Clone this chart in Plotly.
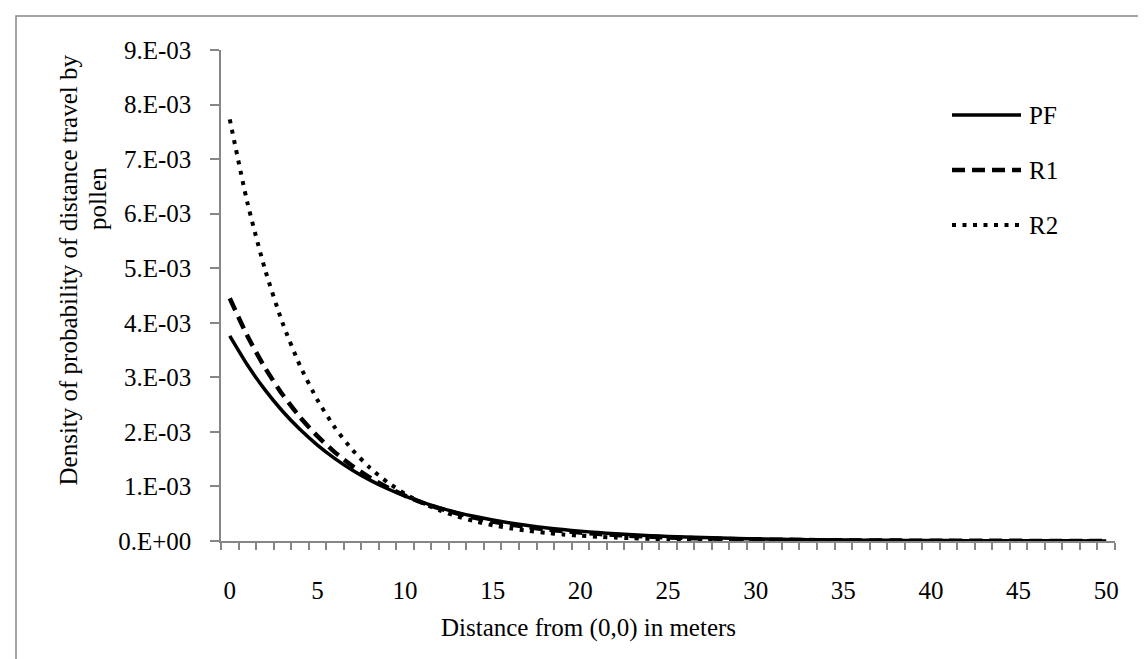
import numpy as np
import plotly.graph_objects as go

# distance categories (m)
distance = list(range(0, 51))

# density values in units of 1e-3
SCALE = 1e-3
pf = [3.760, 3.230, 2.774, 2.383, 2.047, 1.759, 1.511, 1.298, 1.115, 0.958,
      0.823, 0.707, 0.607, 0.521, 0.448, 0.385, 0.330, 0.284, 0.244, 0.209,
      0.180, 0.155, 0.133, 0.114, 0.098, 0.084, 0.072, 0.062, 0.053, 0.046,
      0.039, 0.034, 0.029, 0.025, 0.021, 0.018, 0.016, 0.013, 0.012, 0.010,
      0.0085, 0.0073, 0.0063, 0.0054, 0.0046, 0.0040, 0.0034, 0.0029, 0.0025, 0.0022,
      0.0019]
r1 = [4.450, 3.762, 3.180, 2.689, 2.273, 1.922, 1.625, 1.373, 1.161, 0.982,
      0.830, 0.701, 0.593, 0.501, 0.424, 0.358, 0.303, 0.256, 0.216, 0.183,
      0.155, 0.131, 0.111, 0.093, 0.079, 0.067, 0.056, 0.048, 0.040, 0.034,
      0.029, 0.024, 0.021, 0.017, 0.015, 0.012, 0.011, 0.009, 0.0076, 0.0064,
      0.0054, 0.0046, 0.0039, 0.0033, 0.0028, 0.0023, 0.0020, 0.0017, 0.0014, 0.0012,
      0.0010]
r2 = [7.730, 6.210, 4.988, 4.007, 3.219, 2.586, 2.077, 1.669, 1.340, 1.077,
      0.865, 0.695, 0.558, 0.448, 0.360, 0.289, 0.232, 0.187, 0.150, 0.120,
      0.097, 0.078, 0.062, 0.050, 0.040, 0.032, 0.026, 0.021, 0.017, 0.014,
      0.011, 0.0088, 0.0071, 0.0057, 0.0046, 0.0037, 0.0030, 0.0024, 0.0019, 0.0015,
      0.0012, 0.0010, 0.0008, 0.0006, 0.0005, 0.0004, 0.0003, 0.0003, 0.0002, 0.0002,
      0.0001]

series_names = ["PF", "R1", "R2"]

x_tick_vals = [0, 5, 10, 15, 20, 25, 30, 35, 40, 45, 50]
y_tick_vals = [0, 1e-3, 2e-3, 3e-3, 4e-3, 5e-3, 6e-3, 7e-3, 8e-3, 9e-3]
y_tick_text = ["0.E+00", "1.E-03", "2.E-03", "3.E-03", "4.E-03",
               "5.E-03", "6.E-03", "7.E-03", "8.E-03", "9.E-03"]

x_title = "Distance from (0,0) in meters"
y_title_line1 = "Density of probability of distance travel by"
y_title_line2 = "pollen"

FONT = "Liberation Serif, Times New Roman, serif"
FS = 25
AXIS_GREY = "#868686"

W, H = 1146, 659
L, R, T, B = 213, 39, 42, 126
PW = W - L - R
PH = H - T - B

def px_x(p):
    return (p - L) / PW

def px_y(p):
    return 1 - (p - T) / PH

styles = [
    dict(color="black", width=3.5, dash="solid"),
    dict(color="black", width=4.5, dash="13px,7px"),
    dict(color="black", width=4, dash="4px,6.5px"),
]

fig = go.Figure()
for name, vals, st in zip(series_names, [pf, r1, r2], styles):
    fig.add_trace(go.Scatter(
        x=distance, y=np.array(vals) * SCALE, mode="lines", name=name,
        line=dict(color=st["color"], width=st["width"], dash=st["dash"], shape="spline", smoothing=0.6),
        showlegend=False, hoverinfo="skip"))

# custom legend (line samples + labels)
leg_y_px = [107, 162, 217]
for name, st, yp in zip(series_names, styles, leg_y_px):
    fig.add_shape(type="line", xref="paper", yref="paper",
                  x0=px_x(944), x1=px_x(1013), y0=px_y(yp), y1=px_y(yp),
                  line=dict(color=st["color"], width=st["width"], dash=st["dash"]))
    fig.add_annotation(xref="paper", yref="paper", x=px_x(1019), y=px_y(yp),
                       text=name, showarrow=False, xanchor="left", yanchor="middle",
                       font=dict(family=FONT, size=FS, color="black"))

# axis titles
fig.add_annotation(xref="paper", yref="paper", x=px_x(580), y=px_y(620),
                   text=x_title, showarrow=False, xanchor="center", yanchor="middle",
                   font=dict(family=FONT, size=FS, color="black"))
fig.add_annotation(xref="paper", yref="paper", x=px_x(60), y=px_y(45),
                   text=y_title_line1, showarrow=False, xanchor="center", yanchor="top",
                   textangle=-90,
                   font=dict(family=FONT, size=FS, color="black"))
fig.add_annotation(xref="paper", yref="paper", x=px_x(89), y=px_y(190),
                   text=y_title_line2, showarrow=False, xanchor="center", yanchor="middle",
                   textangle=-90,
                   font=dict(family=FONT, size=FS, color="black"))

# chart border (bottom edge lies outside the picture)
fig.add_shape(type="rect", xref="paper", yref="paper",
              x0=px_x(8), x1=px_x(1137), y0=px_y(8), y1=px_y(675),
              line=dict(color=AXIS_GREY, width=1.5), layer="below")

fig.update_layout(
    width=W, height=H,
    margin=dict(l=L, r=R, t=T, b=B),
    paper_bgcolor="white", plot_bgcolor="white",
    font=dict(family=FONT, size=FS, color="black"),
    showlegend=False,
)
fig.update_xaxes(
    range=[-0.5, 50.5], tickmode="array", tickvals=x_tick_vals,
    ticks="", showgrid=False, zeroline=False,
    showline=True, linecolor=AXIS_GREY, linewidth=1.5,
    ticklabelstandoff=26,
    minor=dict(ticks="outside", tick0=-0.5, dtick=1, ticklen=7,
               tickcolor=AXIS_GREY, tickwidth=1.5, showgrid=False),
)
fig.update_yaxes(
    range=[0, 9e-3], tickmode="array", tickvals=y_tick_vals, ticktext=y_tick_text,
    ticks="outside", ticklen=9, tickcolor=AXIS_GREY, tickwidth=1.5,
    showgrid=False, zeroline=False,
    showline=True, linecolor=AXIS_GREY, linewidth=1.5,
    ticklabelstandoff=14,
)

fig.write_html("out.html")
